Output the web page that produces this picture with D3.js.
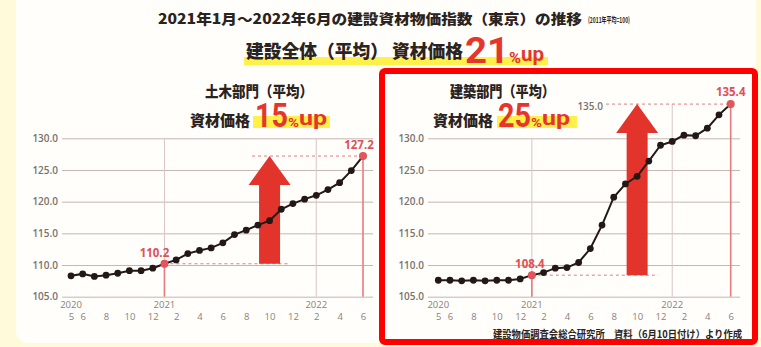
<!DOCTYPE html>
<html>
<head>
<meta charset="utf-8">
<script src="https://cdn.jsdelivr.net/npm/d3@7"></script>
<style>
  body { margin: 0; background: #fffad9; }
  svg { display: block; font-family: "Noto Sans CJK JP", "Noto Sans", sans-serif; }
</style>
</head>
<body>
<div class="chart"></div>
<script>
// months shown on the x axis (May 2020 - June 2022)
const months = [
    "2020-05", "2020-06", "2020-07", "2020-08", "2020-09", "2020-10", "2020-11", "2020-12",
    "2021-01", "2021-02", "2021-03", "2021-04", "2021-05", "2021-06", "2021-07", "2021-08",
    "2021-09", "2021-10", "2021-11", "2021-12",
    "2022-01", "2022-02", "2022-03", "2022-04", "2022-05", "2022-06"
];

// 土木部門 (平均) index, 2011 = 100
const civilIndex = [
    108.3, 108.6, 108.2, 108.4, 108.7, 109.1, 109.1, 109.5,
    110.2, 110.8, 111.8, 112.3, 112.7, 113.5, 114.8, 115.5,
    116.3, 117.0, 118.8, 119.7,
    120.4, 121.0, 121.9, 123.0, 124.9, 127.2
];

// 建築部門 (平均) index, 2011 = 100
const buildingIndex = [
    107.6, 107.6, 107.5, 107.6, 107.5, 107.6, 107.6, 107.8,
    108.4, 108.8, 109.5, 109.6, 110.4, 112.6, 116.3, 120.7,
    122.8, 124.0, 126.4, 128.9,
    129.5, 130.5, 130.4, 131.6, 133.7, 135.4
];

const yTicks = [105, 110, 115, 120, 125, 130];
const monthTicks = ["2020-05", "2020-06", "2020-08", "2020-10", "2020-12", "2021-02", "2021-04",
    "2021-06", "2021-08", "2021-10", "2021-12", "2022-02", "2022-04", "2022-06"];
const civilYearTicks = [["2020", "2020-05"], ["2021", "2021-01"], ["2022", "2022-02"]];
const buildingYearTicks = [["2020", "2020-05"], ["2021", "2021-01"], ["2022", "2022-01"]];

const startMonth = "2021-01", endMonth = "2022-06", arrowMonth = "2021-10";

const red = "#e5352c", pale = "#e77b7f";

let svg = d3.select(".chart")
    .append("svg")
    .attr("width", 761)
    .attr("height", 347);

// background + white card
svg.append("rect").attr("width", 761).attr("height", 347).attr("fill", "#fffad9");
svg.append("rect")
    .attr("x", 16).attr("y", -14).attr("width", 740).attr("height", 357)
    .attr("rx", 12).attr("fill", "#fffefa");

function bold(g, x, y, size, txt, fill, len) {
    let t = g.append("text")
        .attr("x", x).attr("y", y)
        .attr("font-size", size)
        .attr("font-weight", 900)
        .attr("fill", fill || "#2b2320")
        .text(txt);
    if (len) t.attr("textLength", len).attr("lengthAdjust", "spacingAndGlyphs");
    return t;
}

// "21%up" style figure as one text with tspans
function bigPercent(g, x, y, num, sizes, lens) {
    let t = g.append("text")
        .attr("x", x).attr("y", y)
        .attr("fill", red)
        .attr("font-weight", 700)
        .attr("font-family", "Roboto, sans-serif");
    t.append("tspan").attr("font-size", sizes[0]).attr("textLength", lens[0])
        .attr("lengthAdjust", "spacingAndGlyphs").text(num);
    t.append("tspan").attr("font-size", sizes[1]).attr("textLength", lens[1])
        .attr("lengthAdjust", "spacingAndGlyphs").text("%");
    t.append("tspan").attr("font-size", sizes[2]).attr("dy", -2).attr("textLength", lens[2])
        .attr("lengthAdjust", "spacingAndGlyphs").text("up");
    return t;
}

let head = svg.append("g");
bold(head, 158, 24, 14, "2021年1月～2022年6月の建設資材物価指数（東京）の推移", null, 424);
bold(head, 588, 23, 8, "(2011年平均=100)", null, 42).attr("font-weight", 700);

head.append("rect").attr("x", 244).attr("y", 57).attr("width", 304).attr("height", 8)
    .attr("fill", "#fff04a");
bold(head, 246, 58, 18, "建設全体（平均） 資材価格", null, 217);
bigPercent(head, 465, 63, "21", [36, 15, 21], [44, 12, 23]);

function subHeading(g, cfg) {
    bold(g, cfg.x, 97, 15, cfg.title, null, cfg.titleLen);
    g.append("rect").attr("x", cfg.hx).attr("y", 116).attr("width", cfg.hw).attr("height", 12)
        .attr("fill", "#fff04a");
    bold(g, cfg.px, 126, 15, "資材価格", null, 60);
    bigPercent(g, cfg.nx, 127, cfg.pct, [33, 13, 20], [33, 11, 28]);
}

let y = d3.scaleLinear().domain([105, 130]).range([296.7, 138.3]);

function drawPanel(cfg) {
    let g = svg.append("g");
    let x = d3.scalePoint().domain(months).range(cfg.xRange);

    // horizontal grid + y labels
    let yAxis = g.append("g")
        .attr("transform", "translate(" + cfg.gridLeft + ",0)")
        .call(d3.axisLeft(y).tickValues(yTicks)
            .tickSize(-(cfg.gridRight - cfg.gridLeft))
            .tickPadding(4)
            .tickFormat(d3.format(".1f")));
    yAxis.select(".domain").remove();
    yAxis.selectAll("line").attr("stroke", "#c4b6b3");
    yAxis.selectAll("text").attr("font-size", 10).attr("fill", "#7a716e")
        .attr("font-family", "'Open Sans', sans-serif").attr("font-weight", 600);

    // vertical year lines
    cfg.yearTicks.slice(1).forEach((t, i) => {
        g.append("line")
            .attr("x1", x(t[1])).attr("x2", x(t[1]))
            .attr("y1", i == 1 ? y(cfg.yearTop) : y(130)).attr("y2", y(105))
            .attr("stroke", "#d9c6c6");
    });

    // month + year labels
    let xAxis = g.append("g")
        .attr("transform", "translate(0," + y(105) + ")")
        .call(d3.axisBottom(x).tickValues(monthTicks).tickSize(0).tickPadding(17)
            .tickFormat(d => +d.slice(5)));
    xAxis.select(".domain").remove();
    xAxis.selectAll("text").attr("font-size", 9.5).attr("fill", "#8a817e")
        .attr("font-family", "'Open Sans', sans-serif");

    g.append("g").selectAll("text").data(cfg.yearTicks).enter().append("text")
        .attr("x", d => x(d[1]))
        .attr("y", y(105) + 11)
        .attr("text-anchor", "middle")
        .attr("font-size", 9.5)
        .attr("font-family", "'Open Sans', sans-serif")
        .attr("fill", "#8a817e")
        .text(d => d[0]);

    let v0 = cfg.values[months.indexOf(startMonth)];
    let v1 = cfg.values[months.indexOf(endMonth)];

    // dashed reference lines
    g.append("line")
        .attr("x1", x(startMonth)).attr("x2", x(arrowMonth) + 21)
        .attr("y1", y(v0)).attr("y2", y(v0))
        .attr("stroke", pale).attr("stroke-dasharray", "3,3");
    g.append("line")
        .attr("x1", cfg.topDashStart).attr("x2", x(endMonth))
        .attr("y1", y(v1)).attr("y2", y(v1))
        .attr("stroke", pale).attr("stroke-dasharray", "3,3");

    // red verticals from the highlighted points
    [[startMonth, v0], [endMonth, v1]].forEach(d => {
        g.append("line")
            .attr("x1", x(d[0])).attr("x2", x(d[0]))
            .attr("y1", y(d[1])).attr("y2", y(105))
            .attr("stroke", pale).attr("stroke-width", 1.6);
    });

    // arrow
    let ax = x(arrowMonth), top = y(v1), bot = y(v0);
    let arrow = d3.path();
    arrow.moveTo(ax - 10.5, bot);
    arrow.lineTo(ax - 10.5, top + 29);
    arrow.lineTo(ax - 21, top + 29);
    arrow.lineTo(ax, top);
    arrow.lineTo(ax + 21, top + 29);
    arrow.lineTo(ax + 10.5, top + 29);
    arrow.lineTo(ax + 10.5, bot);
    arrow.closePath();
    g.append("path").attr("d", arrow.toString()).attr("fill", "#e2342b");

    // the series
    let line = d3.line()
        .x((d, i) => x(months[i]))
        .y(d => y(d));
    g.append("path")
        .datum(cfg.values)
        .attr("fill", "none")
        .attr("stroke", "#231815")
        .attr("stroke-width", 2)
        .attr("d", line);
    g.selectAll(".dot").data(cfg.values).enter().append("circle")
        .attr("class", "dot")
        .attr("cx", (d, i) => x(months[i]))
        .attr("cy", d => y(d))
        .attr("r", 3.4)
        .attr("fill", "#231815");

    // highlighted points
    [[startMonth, v0, cfg.l0], [endMonth, v1, cfg.l1]].forEach(d => {
        g.append("circle")
            .attr("cx", x(d[0])).attr("cy", y(d[1])).attr("r", 4)
            .attr("fill", "#e2555a");
        g.append("text")
            .attr("x", x(d[0]) + d[2][0]).attr("y", y(d[1]) + d[2][1])
            .attr("text-anchor", "middle")
            .attr("font-size", 11.5)
            .attr("font-weight", 700)
            .attr("font-family", "'Open Sans', sans-serif")
            .attr("fill", "#e05058")
            .text(d3.format(".1f")(d[1]));
    });

    subHeading(g, cfg.heading);
    return { g: g, x: x };
}

drawPanel({
    values: civilIndex,
    xRange: [71, 363],
    gridLeft: 62, gridRight: 373,
    yearTicks: civilYearTicks,
    yearTop: 130,
    topDashStart: 252,
    l0: [-10, -7], l1: [-4, -7],
    heading: { x: 205, title: "土木部門（平均）", titleLen: 108, hx: 253, hw: 77, px: 190, nx: 255, pct: "15" }
});

let right = drawPanel({
    values: buildingIndex,
    xRange: [438.3, 730.7],
    gridLeft: 428, gridRight: 740,
    yearTicks: buildingYearTicks,
    yearTop: 135.4,
    topDashStart: 606,
    l0: [-2, -7], l1: [0, -8],
    heading: { x: 450, title: "建築部門（平均）", titleLen: 105, hx: 497, hw: 80, px: 433, nx: 498, pct: "25" }
});

// 135.0 label on the building chart
right.g.append("text")
    .attr("x", 603).attr("y", y(135) + 3.5)
    .attr("text-anchor", "end")
    .attr("font-size", 10)
    .attr("font-weight", 600)
    .attr("font-family", "'Open Sans', sans-serif")
    .attr("fill", "#7a716e")
    .text("135.0");

// source note
svg.append("text")
    .attr("x", 742).attr("y", 338)
    .attr("text-anchor", "end")
    .attr("font-size", 10)
    .attr("font-weight", 700)
    .attr("fill", "#2b2320")
    .attr("textLength", 249).attr("lengthAdjust", "spacingAndGlyphs")
    .text("建設物価調査会総合研究所　資料（6月10日付け）より作成");

// red frame around the building chart
svg.append("rect")
    .attr("x", 382).attr("y", 71).attr("width", 373).attr("height", 271)
    .attr("rx", 3)
    .attr("fill", "none")
    .attr("stroke", "#ff0000")
    .attr("stroke-width", 6);
</script>
</body>
</html>
